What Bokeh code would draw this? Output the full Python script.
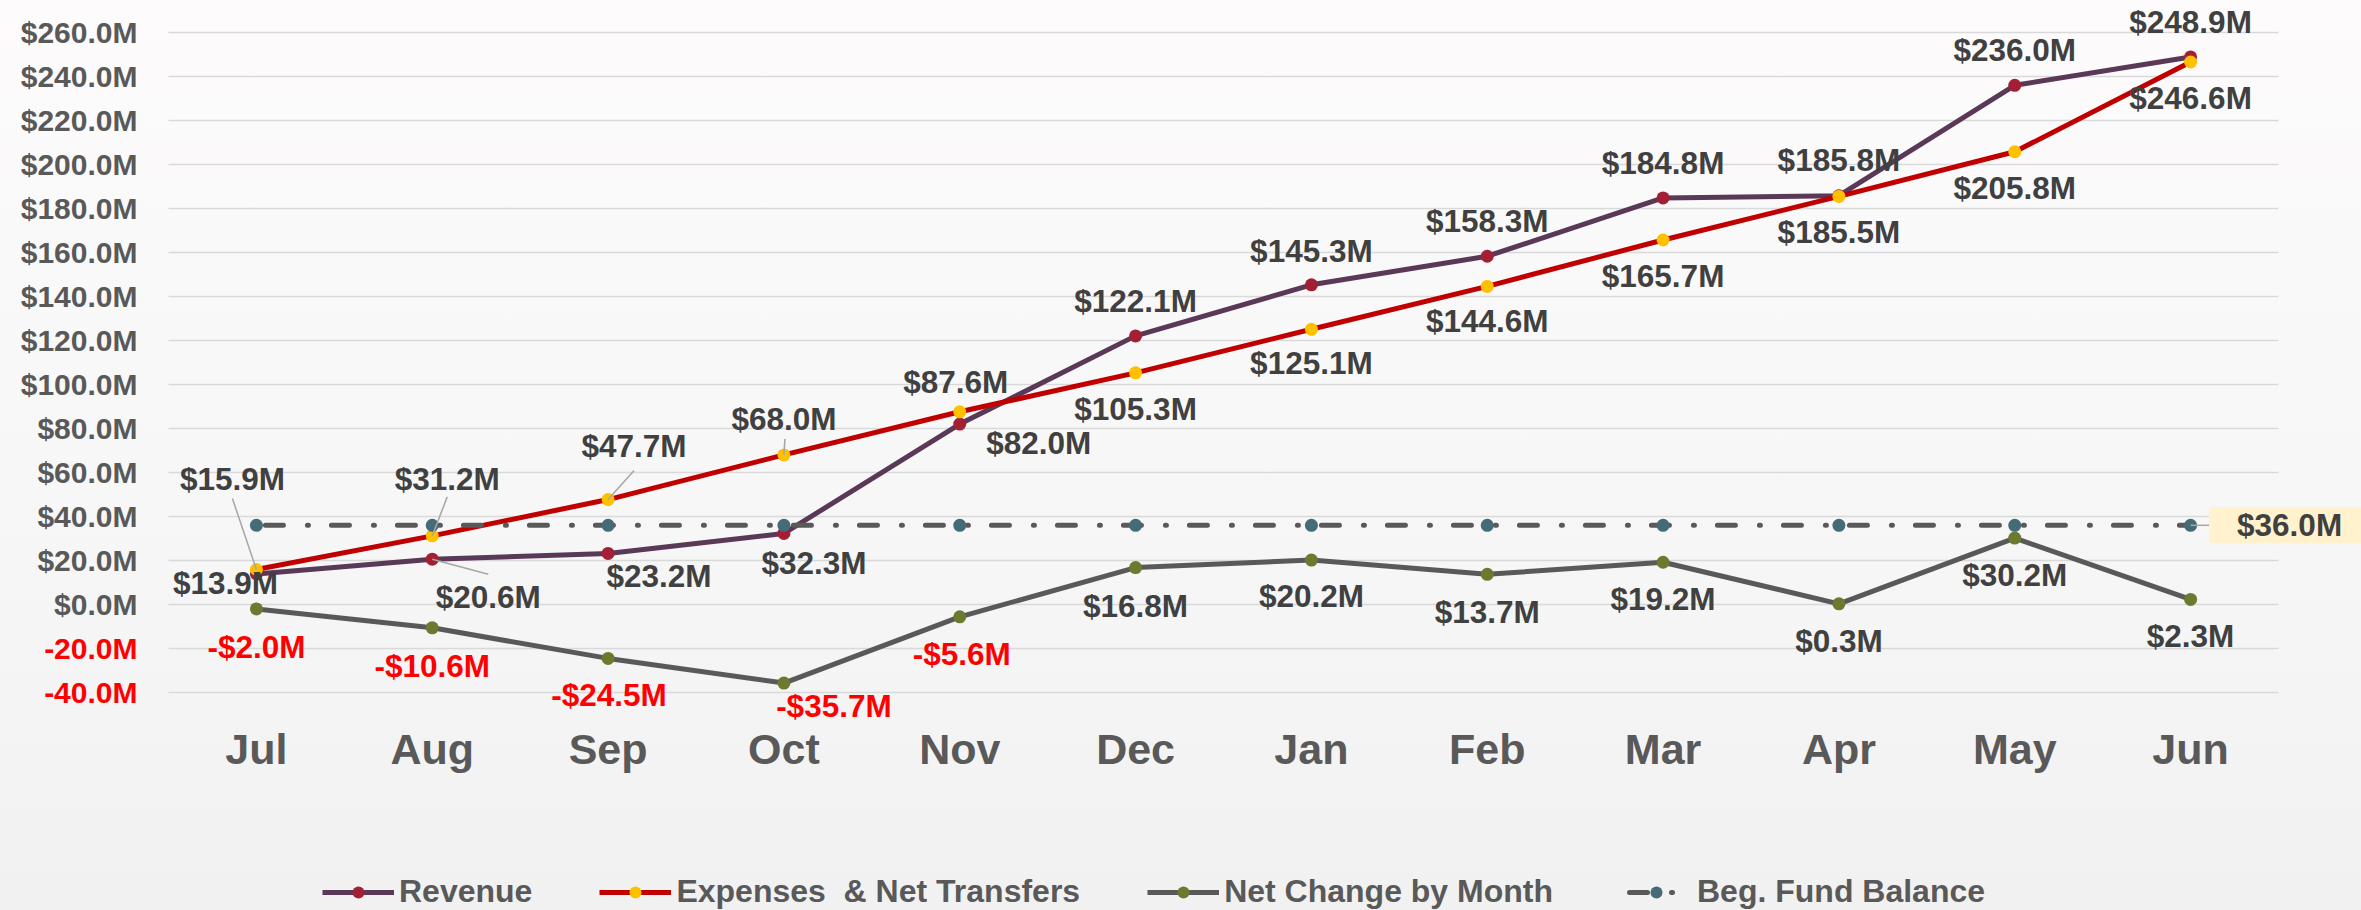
from bokeh.plotting import figure
from bokeh.models import (ColumnDataSource, Range1d, FixedTicker, LinearAxis, Grid,
                          LabelSet, Label, Legend, LegendItem)
from bokeh.core.properties import value
from bokeh.embed import file_html
from bokeh.resources import INLINE

# ---------------- data ----------------
months = ["Jul", "Aug", "Sep", "Oct", "Nov", "Dec", "Jan", "Feb", "Mar", "Apr", "May", "Jun"]
revenue = [13.9, 20.6, 23.2, 32.3, 82.0, 122.1, 145.3, 158.3, 184.8, 185.8, 236.0, 248.9]
expenses = [15.9, 31.2, 47.7, 68.0, 87.6, 105.3, 125.1, 144.6, 165.7, 185.5, 205.8, 246.6]
net_change = [-2.0, -10.6, -24.5, -35.7, -5.6, 16.8, 20.2, 13.7, 19.2, 0.3, 30.2, 2.3]
beg_fund = [36.0, 36.0, 36.0, 36.0, 36.0, 36.0, 36.0, 36.0, 36.0, 36.0, 36.0, 36.0]
y_ticks = [-40, -20, 0, 20, 40, 60, 80, 100, 120, 140, 160, 180, 200, 220, 240, 260]
y_tick_labels = ["-40.0M", "-20.0M", "$0.0M", "$20.0M", "$40.0M", "$60.0M", "$80.0M",
                 "$100.0M", "$120.0M", "$140.0M", "$160.0M", "$180.0M", "$200.0M",
                 "$220.0M", "$240.0M", "$260.0M"]
series_names = ["Revenue", "Expenses  & Net Transfers", "Net Change by Month", "Beg. Fund Balance"]

# ---------------- label placement (screen px, +down) ----------------
rev_dx = [-31, 56, 51, 30, 79, 0, 0, 0, 0, 0, 0, 0]
rev_dy = [9, 38, 23, 30, 19, -35, -34, -35, -35, -36, -35, -35]
exp_dx = [-24, 15, 26, 0, -4, 0, 0, 0, 0, 0, 0, 0]
exp_dy = [-91, -57, -54, -36, -30, 36, 34, 35, 36, 36, 36, 36]
net_dx = [0, 0, 1, 50, 2, 0, 0, 0, 0, 0, 0, 0]
net_dy = [38, 38, 37, 23, 37, 38, 36, 38, 37, 37, 37, 37]

# ---------------- styles / geometry ----------------
REV_LINE, REV_MARK = "#5a3857", "#a31f34"
EXP_LINE, EXP_MARK = "#c00000", "#ffc000"
NET_LINE, NET_MARK = "#595959", "#6a7b30"
BEG_LINE, BEG_MARK = "#595959", "#456b77"
LABEL_DARK, LABEL_RED = "#404040", "#ff0000"
AXIS_GREY = "#595959"
FONT = "Liberation Sans"

W, H = 2361, 910
PLOT_L, PLOT_R = 168, 2278        # px extent of the category band
PX_TOP, PX_BOT = 32, 692          # px of top / bottom gridline
n = len(months)
px_x = (PLOT_R - PLOT_L) / n
px_y = (PX_BOT - PX_TOP) / (y_ticks[-1] - y_ticks[0])
band_lo, band_hi = -0.5, n - 0.5
x_lo = band_lo - PLOT_L / px_x
x_hi = band_hi + (W - PLOT_R) / px_x
y_hi = y_ticks[-1] + PX_TOP / px_y
y_lo = y_ticks[0] - (H - PX_BOT) / px_y
x_axis_at = y_ticks[0] - 26 / px_y

x_idx = list(range(n))

p = figure(width=W, height=H, x_range=Range1d(x_lo, x_hi), y_range=Range1d(y_lo, y_hi),
           output_backend="svg", toolbar_location=None,
           min_border_left=0, min_border_right=0, min_border_top=0, min_border_bottom=0)
p.background_fill_color = None
p.border_fill_color = None
p.outline_line_color = None
p.styles = {"background": "linear-gradient(to bottom, #fdfbfb 0%, #f7f7f7 55%, #f1f1f1 100%)"}

# grid
p.xgrid.visible = False
p.ygrid.ticker = FixedTicker(ticks=y_ticks)
p.ygrid.grid_line_color = "#d9d9d9"
p.ygrid.grid_line_width = 1.5
if "cross_bounds" in Grid.properties():
    p.ygrid.cross_bounds = (band_lo, band_hi)
else:
    p.ygrid.visible = False
    p.segment(x0=[band_lo] * len(y_ticks), y0=y_ticks, x1=[band_hi] * len(y_ticks), y1=y_ticks,
              line_color="#d9d9d9", line_width=1.5)

# x axis
xa = p.xaxis[0]
xa.fixed_location = x_axis_at
xa.ticker = FixedTicker(ticks=x_idx)
xa.major_label_overrides = {i: m for i, m in zip(x_idx, months)}
xa.axis_line_color = None
xa.major_tick_line_color = None
xa.minor_tick_line_color = None
xa.major_label_standoff = 0
xa.major_label_text_font = FONT
xa.major_label_text_font_style = "bold"
xa.major_label_text_font_size = "43px"
xa.major_label_text_color = AXIS_GREY

# y axes: positive (grey) and negative (red)
pos_ticks = [t for t in y_ticks if t >= 0]
neg_ticks = [t for t in y_ticks if t < 0]
tick_text = dict(zip(y_ticks, y_tick_labels))

def style_yaxis(ax, color):
    ax.fixed_location = band_lo
    ax.axis_line_color = None
    ax.major_tick_line_color = None
    ax.minor_tick_line_color = None
    ax.major_label_standoff = 25
    ax.major_label_text_font = FONT
    ax.major_label_text_font_style = "bold"
    ax.major_label_text_font_size = "30px"
    ax.major_label_text_color = color

ya = p.yaxis[0]
ya.ticker = FixedTicker(ticks=pos_ticks)
ya.major_label_overrides = {t: tick_text[t] for t in pos_ticks}
style_yaxis(ya, AXIS_GREY)

yneg = LinearAxis(ticker=FixedTicker(ticks=neg_ticks),
                  major_label_overrides={t: tick_text[t] for t in neg_ticks})
style_yaxis(yneg, LABEL_RED)
p.add_layout(yneg, "left")

# series
src = ColumnDataSource(dict(x=x_idx, rev=revenue, exp=expenses, net=net_change, beg=beg_fund))
MS = 13
r_rev = p.line("x", "rev", source=src, line_color=REV_LINE, line_width=5)
s_rev = p.scatter("x", "rev", source=src, size=MS, fill_color=REV_MARK, line_color=None)
r_exp = p.line("x", "exp", source=src, line_color=EXP_LINE, line_width=5)
s_exp = p.scatter("x", "exp", source=src, size=MS, fill_color=EXP_MARK, line_color=None)
r_net = p.line("x", "net", source=src, line_color=NET_LINE, line_width=5)
s_net = p.scatter("x", "net", source=src, size=MS, fill_color=NET_MARK, line_color=None)
r_beg = p.line("x", "beg", source=src, line_color=BEG_LINE, line_width=5,
               line_dash="18 24 1 23", line_dash_offset=57, line_cap="round")
s_beg = p.scatter("x", "beg", source=src, size=MS, fill_color=BEG_MARK, line_color=None)

# leader lines (from data point to label)
lead_i = [0, 1, 1, 2, 3, 11]
lead_v = [expenses[0], revenue[1], expenses[1], expenses[2], expenses[3], beg_fund[11]]
lead_dx = [-24, 56, 15, 26, 1, 21]
lead_dy = [-71, 15, -39, -29, -16, 0]
lead_src = ColumnDataSource(dict(
    x0=lead_i, y0=lead_v,
    x1=[i + dx / px_x for i, dx in zip(lead_i, lead_dx)],
    y1=[v - dy / px_y for v, dy in zip(lead_v, lead_dy)]))
p.segment("x0", "y0", "x1", "y1", source=lead_src, line_color="#a6a6a6", line_width=1.5)


def fmt(v):
    return f"-${abs(v):.1f}M" if v < 0 else f"${v:.1f}M"


def add_labels(vals, dx, dy):
    s = ColumnDataSource(dict(
        x=x_idx, y=vals, text=[fmt(v) for v in vals],
        color=[LABEL_RED if v < 0 else LABEL_DARK for v in vals],
        xo=dx, yo=[-d for d in dy]))
    p.add_layout(LabelSet(x="x", y="y", text="text", source=s, x_offset="xo", y_offset="yo",
                          text_align="center", text_baseline="middle",
                          text_font=value(FONT), text_font_style="bold",
                          text_font_size="31.5px", text_color="color"))

add_labels(revenue, rev_dx, rev_dy)
add_labels(expenses, exp_dx, exp_dy)
add_labels(net_change, net_dx, net_dy)

p.add_layout(Label(x=x_idx[-1], y=beg_fund[-1], x_offset=100, y_offset=0, text=fmt(beg_fund[-1]),
                   text_align="center", text_baseline="middle", text_font=FONT,
                   text_font_style="bold", text_font_size="31.5px", text_color=LABEL_DARK,
                   background_fill_color="#fff2cc",
                   padding=dict(left=28, right=30, top=0, bottom=0)))

legend = Legend(items=[
    LegendItem(label=value(series_names[0]), renderers=[r_rev, s_rev]),
    LegendItem(label=value(series_names[1]), renderers=[r_exp, s_exp]),
    LegendItem(label=value(series_names[2]), renderers=[r_net, s_net]),
    LegendItem(label=value(series_names[3]), renderers=[r_beg, s_beg]),
], orientation="horizontal", location=(322, 0),
    glyph_width=72, glyph_height=30, label_standoff=5, spacing=67,
    padding=0, margin=0, border_line_color=None, background_fill_alpha=0,
    label_text_font=FONT, label_text_font_style="bold", label_text_font_size="32px",
    label_text_color=AXIS_GREY)
p.add_layout(legend)

open("out.html", "w").write(file_html(p, INLINE))
